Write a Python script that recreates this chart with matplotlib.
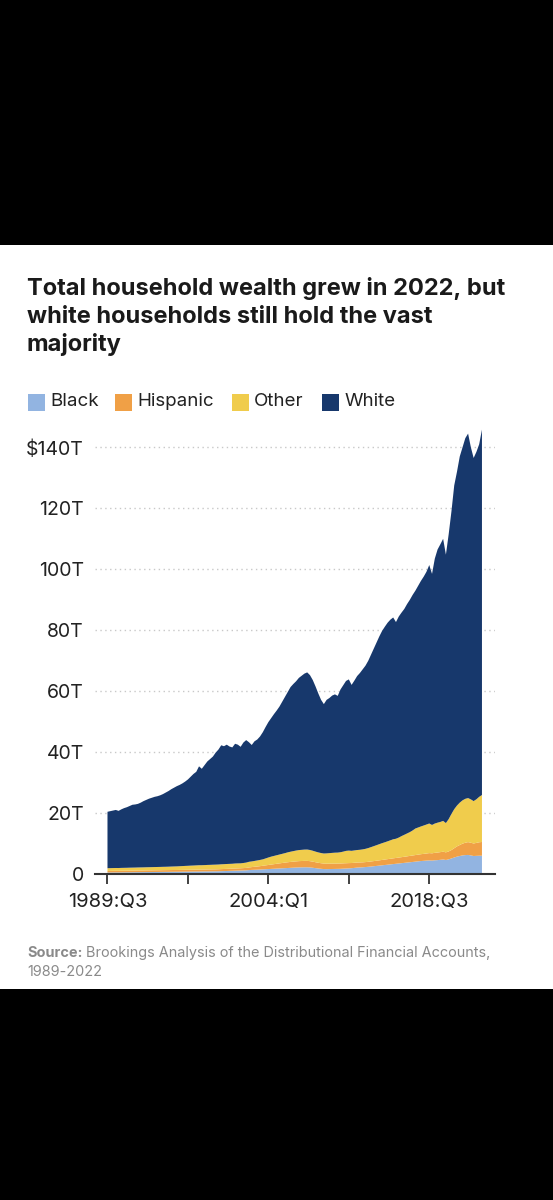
import matplotlib
matplotlib.use("Agg")
import matplotlib.pyplot as plt
from matplotlib.patches import Rectangle
import numpy as np

plt.rcParams['font.family'] = ['Inter', 'DejaVu Sans']

# quarters from 1989:Q3 (index 0) to 2023:Q2 (index 135), trillions of dollars
total = [
    20.5, 20.7, 20.9, 21.1, 20.8, 21.3, 21.7, 22.0, 22.4, 22.8,
    22.9, 23.1, 23.5, 24.0, 24.4, 24.8, 25.1, 25.4, 25.6, 25.9,
    26.3, 26.8, 27.3, 27.9, 28.4, 28.9, 29.3, 29.8, 30.4, 31.1,
    32.0, 32.9, 33.6, 35.4, 34.6, 35.8, 37.0, 37.8, 38.6, 39.9,
    40.9, 42.3, 42.0, 42.5, 41.9, 41.6, 42.8, 42.5, 41.8, 43.2,
    44.0, 43.3, 42.4, 43.6, 44.2, 45.2, 46.6, 48.3, 49.9, 51.2,
    52.5, 53.7, 55.0, 56.6, 58.2, 59.8, 61.4, 62.4, 63.3, 64.4,
    65.1, 65.8, 66.2, 65.3, 63.7, 61.6, 59.3, 57.2, 55.8, 57.2,
    57.8, 58.6, 59.0, 58.5, 60.6, 62.0, 63.4, 63.9, 62.1, 63.5,
    65.0, 66.0, 67.2, 68.4, 70.0, 72.0, 74.0, 76.0, 78.0, 79.8,
    81.2, 82.5, 83.5, 84.2, 82.7, 84.5, 85.8, 87.0, 88.6, 90.0,
    91.6, 93.0, 94.6, 96.2, 97.6, 99.2, 101.4, 98.5, 103.5, 106.5,
    108.2, 110.0, 104.8, 111.5, 119.0, 127.5, 132.0, 137.0, 140.0, 143.0,
    144.5, 140.0, 136.5, 138.5, 141.0, 145.8,
]

black = [
    0.60, 0.61, 0.62, 0.63, 0.63, 0.64, 0.65, 0.66, 0.67, 0.68,
    0.69, 0.70, 0.71, 0.72, 0.73, 0.74, 0.75, 0.76, 0.77, 0.78,
    0.79, 0.80, 0.81, 0.82, 0.83, 0.84, 0.85, 0.86, 0.87, 0.88,
    0.89, 0.90, 0.91, 0.92, 0.93, 0.94, 0.95, 0.96, 0.97, 0.98,
    1.00, 1.03, 1.06, 1.09, 1.12, 1.15, 1.18, 1.21, 1.24, 1.27,
    1.30, 1.38, 1.44, 1.48, 1.52, 1.57, 1.62, 1.67, 1.72, 1.77,
    1.82, 1.87, 1.92, 1.97, 2.02, 2.07, 2.12, 2.17, 2.22, 2.26,
    2.28, 2.30, 2.30, 2.25, 2.15, 2.02, 1.90, 1.80, 1.72, 1.70,
    1.72, 1.74, 1.76, 1.78, 1.80, 1.85, 1.90, 1.95, 2.00, 2.10,
    2.20, 2.25, 2.30, 2.38, 2.46, 2.55, 2.65, 2.75, 2.85, 2.95,
    3.05, 3.15, 3.25, 3.35, 3.45, 3.55, 3.65, 3.75, 3.85, 3.95,
    4.05, 4.15, 4.25, 4.35, 4.42, 4.50, 4.55, 4.50, 4.60, 4.65,
    4.75, 4.85, 4.70, 4.90, 5.20, 5.50, 5.80, 6.00, 6.20, 6.30,
    6.35, 6.20, 6.00, 6.05, 6.10, 6.10,
]

hispanic = [
    0.50, 0.50, 0.51, 0.51, 0.51, 0.52, 0.52, 0.52, 0.53, 0.53,
    0.53, 0.54, 0.54, 0.54, 0.55, 0.55, 0.55, 0.56, 0.56, 0.56,
    0.57, 0.57, 0.57, 0.58, 0.58, 0.58, 0.59, 0.59, 0.60, 0.60,
    0.61, 0.61, 0.62, 0.62, 0.63, 0.63, 0.64, 0.64, 0.65, 0.65,
    0.66, 0.67, 0.68, 0.69, 0.70, 0.71, 0.72, 0.73, 0.74, 0.76,
    0.80, 0.86, 0.92, 0.98, 1.04, 1.10, 1.18, 1.26, 1.34, 1.42,
    1.50, 1.58, 1.66, 1.74, 1.82, 1.88, 1.94, 1.98, 2.02, 2.06,
    2.08, 2.10, 2.10, 2.06, 2.00, 1.94, 1.88, 1.83, 1.80, 1.78,
    1.77, 1.76, 1.75, 1.74, 1.74, 1.74, 1.73, 1.72, 1.70, 1.68,
    1.66, 1.64, 1.62, 1.62, 1.64, 1.66, 1.68, 1.70, 1.73, 1.76,
    1.79, 1.82, 1.85, 1.88, 1.91, 1.94, 1.97, 2.00, 2.04, 2.08,
    2.12, 2.16, 2.20, 2.24, 2.28, 2.32, 2.40, 2.38, 2.44, 2.48,
    2.52, 2.56, 2.50, 2.60, 2.75, 3.05, 3.35, 3.60, 3.85, 4.05,
    4.20, 4.15, 4.10, 4.25, 4.40, 4.50,
]

other = [
    0.90, 0.91, 0.92, 0.93, 0.92, 0.94, 0.95, 0.96, 0.97, 0.98,
    0.99, 1.00, 1.01, 1.02, 1.03, 1.04, 1.05, 1.06, 1.07, 1.08,
    1.09, 1.10, 1.12, 1.14, 1.16, 1.18, 1.21, 1.25, 1.28, 1.31,
    1.34, 1.37, 1.40, 1.44, 1.42, 1.45, 1.48, 1.50, 1.52, 1.54,
    1.55, 1.58, 1.58, 1.60, 1.60, 1.60, 1.64, 1.64, 1.62, 1.68,
    1.74, 1.86, 1.86, 1.92, 1.98, 2.04, 2.10, 2.27, 2.45, 2.60,
    2.70, 2.80, 2.90, 3.00, 3.10, 3.25, 3.35, 3.45, 3.55, 3.62,
    3.66, 3.70, 3.72, 3.66, 3.58, 3.48, 3.40, 3.34, 3.30, 3.38,
    3.45, 3.52, 3.58, 3.60, 3.70, 3.85, 4.05, 4.10, 4.00, 4.05,
    4.10, 4.15, 4.25, 4.35, 4.50, 4.70, 4.90, 5.10, 5.30, 5.50,
    5.66, 5.85, 6.05, 6.25, 6.30, 6.55, 6.90, 7.20, 7.50, 7.80,
    8.20, 8.70, 8.90, 9.10, 9.30, 9.50, 9.70, 9.30, 9.60, 9.80,
    9.90, 10.10, 9.60, 10.60, 11.85, 12.80, 13.40, 13.90, 14.20, 14.40,
    14.45, 14.20, 13.90, 14.30, 14.90, 15.40,
]

# white = what is left of the total after the other three groups
white = np.array(total) - np.array(black) - np.array(hispanic) - np.array(other)

groups = ['Black', 'Hispanic', 'Other', 'White']
colors = ['#92b4e1', '#f0a046', '#f0cc4c', '#17386c']

tick_pos = [0, 29, 58, 87, 116]
tick_labels = ['1989:Q3', '', '2004:Q1', '', '2018:Q3']
y_ticks = [0, 20, 40, 60, 80, 100, 120, 140]
y_labels = ['0', '20T', '40T', '60T', '80T', '100T', '120T', '$140T']

title_lines = ['Total household wealth grew in 2022, but',
               'white households still hold the vast',
               'majority']

W, H = 553, 1200
fig = plt.figure(figsize=(W / 100, H / 100), dpi=100, facecolor='black')

def fx(px):
    return px / W

def fy(py):
    return 1 - py / H

# white card between the black bands
fig.patches.append(Rectangle((0, fy(989)), 1, (989 - 245) / H,
                             transform=fig.transFigure, facecolor='white',
                             edgecolor='none', zorder=-1))

ax = fig.add_axes([fx(95), fy(874.3), 400 / W, 150 * 3.05 / H])
q = np.arange(len(total))
ax.stackplot(q, black, hispanic, other, white, colors=colors, linewidth=0)
ax.set_xlim(-4.5, 139.7)
ax.set_ylim(0, 150)

ax.set_yticks(y_ticks)
ax.set_yticklabels(y_labels)
ax.set_xticks(tick_pos)
ax.set_xticklabels(tick_labels)
ax.tick_params(axis='y', length=0, pad=8, labelsize=14, labelcolor='#222222')
ax.tick_params(axis='x', length=7, width=1.3, color='#333333', pad=6.5,
               labelsize=14.5, labelcolor='#222222')
ax.yaxis.grid(True, linestyle=(0, (1, 2.5)), color='#c8c8c8', linewidth=1)
ax.set_axisbelow(True)
for s in ['top', 'right', 'left']:
    ax.spines[s].set_visible(False)
ax.spines['bottom'].set_color('#333333')
ax.spines['bottom'].set_linewidth(1.5)
ax.spines['bottom'].set_zorder(5)
ax.set_facecolor('none')

# title, one line at a time
for i, line in enumerate(title_lines):
    fig.text(fx(27), fy(295 + 28 * i), line, fontsize=17, fontweight='bold',
             color='#1a1a1a', va='baseline', ha='left')

# legend
sq_x = [27.5, 114.6, 231.7, 321.7]
for x0, name, c in zip(sq_x, groups, colors):
    fig.patches.append(Rectangle((fx(x0), fy(410.5)), 17.5 / W, 17 / H,
                                 transform=fig.transFigure, facecolor=c,
                                 edgecolor='none'))
    fig.text(fx(x0 + 22.5), fy(402), name, fontsize=13.5, color='#222222',
             va='center', ha='left')

# source
fig.text(fx(27.5), fy(957), 'Source:', fontsize=10.4, fontweight='bold',
         color='#8a8a8a', va='baseline', ha='left')
fig.text(fx(85.5), fy(957), 'Brookings Analysis of the Distributional Financial Accounts,',
         fontsize=10.4, color='#8a8a8a', va='baseline', ha='left')
fig.text(fx(27.5), fy(976), '1989-2022', fontsize=10.4, color='#8a8a8a',
         va='baseline', ha='left')

fig.savefig('out.png', dpi=100, facecolor=fig.get_facecolor())
